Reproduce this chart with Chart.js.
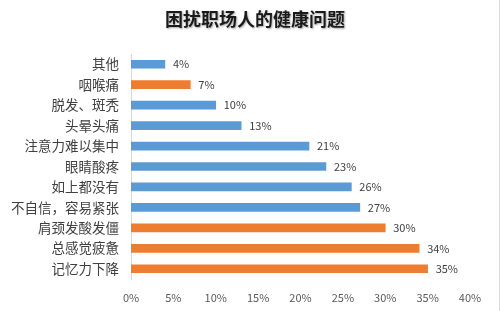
<!DOCTYPE html>
<html>
<head>
<meta charset="utf-8">
<script src="https://cdn.jsdelivr.net/npm/chart.js@4"></script>
<style>
  html, body { margin: 0; padding: 0; background: #fff; }
  #wrap { width: 499px; height: 311px; border-right: 1px solid #d9d9d9; }
</style>
</head>
<body>
<div id="wrap"><canvas id="health" width="499" height="311"></canvas></div>
<script>
// 困扰职场人的健康问题, top to bottom
var categories = ['其他', '咽喉痛', '脱发、斑秃', '头晕头痛', '注意力难以集中', '眼睛酸疼',
  '如上都没有', '不自信，容易紧张', '肩颈发酸发僵', '总感觉疲惫', '记忆力下降'];
var values = [4, 7, 10, 13, 21, 23, 26, 27, 30, 34, 35];
var highlighted = ['咽喉痛', '肩颈发酸发僵', '总感觉疲惫', '记忆力下降'];
var xTicks = [0, 5, 10, 15, 20, 25, 30, 35, 40];

var blue = '#5b9bd5', orange = '#ed7d31';
var font = '"Noto Sans CJK SC", "Microsoft YaHei", sans-serif';

var barColors = categories.map(function (c) {
  return highlighted.indexOf(c) >= 0 ? orange : blue;
});

// value labels at bar ends
var valueLabels = {
  id: 'valueLabels',
  afterDatasetsDraw: function (chart) {
    var ctx = chart.ctx;
    var meta = chart.getDatasetMeta(0);
    ctx.save();
    ctx.font = '11px ' + font;
    ctx.fillStyle = '#404040';
    ctx.textAlign = 'left';
    ctx.textBaseline = 'middle';
    meta.data.forEach(function (bar, i) {
      ctx.fillText(values[i] + '%', bar.x + 8, bar.y);
    });
    ctx.restore();
  }
};

// title with a soft shadow like the original
var shadowTitle = {
  id: 'shadowTitle',
  afterDraw: function (chart) {
    var ctx = chart.ctx;
    ctx.save();
    ctx.font = 'bold 18px ' + font;
    ctx.fillStyle = '#1a1a1a';
    ctx.textAlign = 'center';
    ctx.textBaseline = 'middle';
    ctx.shadowColor = 'rgba(0,0,0,0.35)';
    ctx.shadowBlur = 2;
    ctx.shadowOffsetX = 1;
    ctx.shadowOffsetY = 1;
    ctx.fillText('困扰职场人的健康问题', 255, 19);
    ctx.restore();
  }
};

new Chart(document.getElementById('health'), {
  type: 'bar',
  data: {
    labels: categories,
    datasets: [{
      data: values,
      backgroundColor: barColors,
      barThickness: 8
    }]
  },
  options: {
    indexAxis: 'y',
    responsive: false,
    animation: false,
    layout: { padding: { top: 54, right: 29, bottom: 0, left: 8 } },
    plugins: {
      legend: { display: false },
      tooltip: { enabled: false },
      title: { display: false }
    },
    scales: {
      x: {
        min: 0,
        max: 40,
        afterBuildTicks: function (scale) {
          scale.ticks = xTicks.map(function (v) { return { value: v }; });
        },
        afterFit: function (scale) { scale.height = 32; },
        grid: { display: false, drawTicks: false },
        border: { display: false },
        ticks: {
          padding: 12,
          color: '#595959',
          font: { family: font, size: 11 },
          callback: function (v) { return v + '%'; }
        }
      },
      y: {
        afterFit: function (scale) { scale.width = 123; },
        grid: { display: false, drawTicks: false },
        border: { display: true, color: '#d9d9d9', width: 1 },
        ticks: {
          padding: 12,
          color: '#404040',
          font: { family: font, size: 13.5 }
        }
      }
    }
  },
  plugins: [valueLabels, shadowTitle]
});
</script>
</body>
</html>
